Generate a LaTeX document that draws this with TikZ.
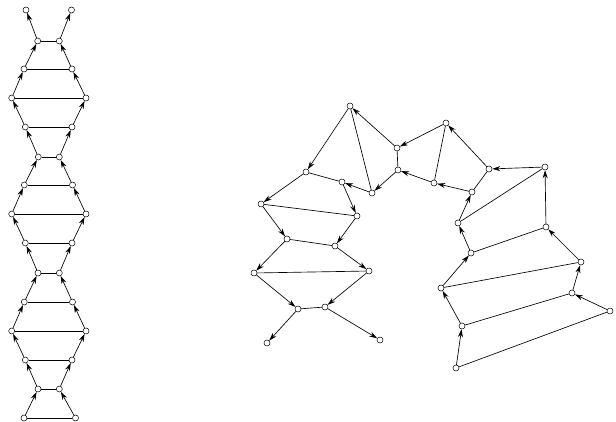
\documentclass[tikz,border=0pt]{standalone}
\usetikzlibrary{arrows.meta}
\begin{document}
\begin{tikzpicture}[x=1pt,y=-1pt,
  vtx/.style={circle,draw,line width=0.5pt,inner sep=0pt,minimum size=6pt},
  arr/.style={-{Stealth[length=8pt,width=5pt]},line width=0.65pt},
  rung/.style={line width=0.65pt}]
\useasboundingbox (0,0) rectangle (616,422);
% left ladder, rail a (left) and rail b (right), row 0 at the bottom
\foreach \i/\x/\y in {0/24/418,1/38/389,2/25.3/360,3/11.7/331,4/24.3/302,5/38/273,6/25.3/243,7/11.7/214,8/24.3/185,9/38.3/157,10/25.3/127,11/11.7/98,12/24/69,13/37.7/41,14/26/10}
  \node[vtx] (la\i) at (\x,\y) {};
\foreach \i/\x/\y in {0/75.5/418,1/59.3/389,2/72/360,3/86/331,4/72.5/302,5/59.3/273,6/72/243,7/86/214,8/72.5/185,9/59.3/157,10/72/127,11/86/98,12/72/69,13/59.3/41,14/71.5/10}
  \node[vtx] (lb\i) at (\x,\y) {};
% right graph
\foreach \i/\x/\y in {0/456/368,1/462/326,2/441/288,3/471/253,4/458/223,5/472/192,6/434/183,7/398/170,8/372/193,9/342/182,10/357/216,11/335/246,12/369/271,13/325/307,14/380/340}
  \node[vtx] (ra\i) at (\x,\y) {};
\foreach \i/\x/\y in {0/610/311,1/572/293,2/581/262,3/546/227,4/545/167,5/489/169,6/446/123,7/397/148,8/350/106,9/306/172,10/261/204,11/287/239,12/254/273,13/298/309,14/267/343}
  \node[vtx] (rb\i) at (\x,\y) {};
\foreach \i in {0,...,13}{
  \pgfmathtruncatemacro{\j}{\i+1}
  \draw[arr] (la\i) -- (la\j);
  \draw[arr] (lb\i) -- (lb\j);
  \draw[arr] (ra\i) -- (ra\j);
  \draw[arr] (rb\i) -- (rb\j);
  \draw[rung] (la\i) -- (lb\i);
  \draw[rung] (ra\i) -- (rb\i);
}
\end{tikzpicture}
\end{document}
